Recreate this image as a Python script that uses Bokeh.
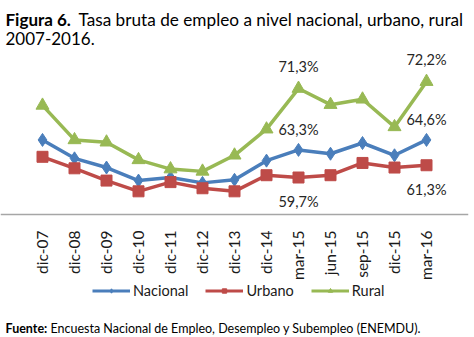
import math
from bokeh.plotting import figure
from bokeh.models import FactorRange, Range1d, Label, Legend, LegendItem, ColumnDataSource
from bokeh.core.properties import value
from bokeh.embed import file_html
from bokeh.resources import INLINE

periods = ["dic-07", "dic-08", "dic-09", "dic-10", "dic-11", "dic-12", "dic-13",
           "dic-14", "mar-15", "jun-15", "sep-15", "dic-15", "mar-16"]
nacional = [64.6, 62.2, 61.0, 59.3, 59.7, 59.0, 59.4, 61.9, 63.3, 62.8, 64.2, 62.6, 64.6]
urbano = [62.4, 60.9, 59.3, 57.9, 59.1, 58.3, 57.9, 60.0, 59.7, 60.0, 61.6, 61.0, 61.3]
rural = [69.1, 64.6, 64.3, 62.0, 60.8, 60.5, 62.6, 66.0, 71.3, 69.2, 69.9, 66.3, 72.2]
labelled = ["mar-15", "mar-16"]

FONT = "Lato"
C_NAC = "#4A7EBB"
C_URB = "#BE4B48"
C_RUR = "#98B954"
H = 337

p = figure(width=474, height=H, output_backend="svg", toolbar_location=None,
           x_range=FactorRange(factors=periods, range_padding=0.125),
           y_range=Range1d(38.84, 82.78),
           y_axis_location=None, min_border_left=0, min_border_right=6,
           min_border_top=0, min_border_bottom=0)
# an off-screen range used only by the legend swatch renderers
p.extra_y_ranges = {"swatch": Range1d(start=1000, end=1001)}
p.outline_line_color = None
p.xgrid.grid_line_color = None
p.ygrid.grid_line_color = None
p.background_fill_color = "white"
p.border_fill_color = "white"

ax = p.xaxis[0]
ax.fixed_location = 54.88
ax.axis_line_color = "#A6A6A6"
ax.axis_line_width = 1.5
ax.major_tick_line_color = None
ax.minor_tick_line_color = None
ax.major_label_orientation = math.pi / 2
ax.major_label_standoff = 10
ax.major_label_text_font = FONT
ax.major_label_text_font_size = "15.5px"
ax.major_label_text_color = "#1a1a1a"

series = [("Nacional", nacional, C_NAC, "diamond", 13),
          ("Urbano", urbano, C_URB, "square", 11),
          ("Rural", rural, C_RUR, "triangle", 13)]
legend_items = []
for name, vals, col, mk, sz in series:
    src = ColumnDataSource(dict(x=periods, y=vals))
    p.line("x", "y", source=src, line_color=col, line_width=3.5)
    p.scatter("x", "y", source=src, marker=mk, size=sz, fill_color=col, line_color=col)
    lr = p.line("x", "y", source=src, y_range_name="swatch", line_color=col, line_width=3)
    sr = p.scatter("x", "y", source=src, y_range_name="swatch",
                   marker=mk, size=7, fill_color=col, line_color=col)
    legend_items.append(LegendItem(label=name, renderers=[lr, sr]))

lab_x, lab_y, lab_t, lab_off = [], [], [], []
for name, vals, off in [("Rural", rural, -22), ("Nacional", nacional, -20), ("Urbano", urbano, 24)]:
    for per in labelled:
        i = periods.index(per)
        lab_x.append(per)
        lab_y.append(vals[i])
        lab_t.append(("%.1f%%" % vals[i]).replace(".", ","))
        lab_off.append(off)
lsrc = ColumnDataSource(dict(x=lab_x, y=lab_y, t=lab_t, off=lab_off))
p.text("x", "y", text="t", source=lsrc, y_offset="off", text_align="center",
       text_baseline="middle", text_font=value(FONT), text_font_size="14.5px",
       text_color="#262626")

legend = Legend(items=legend_items, orientation="horizontal", location=(92, H - 299),
                glyph_width=38, glyph_height=11, label_standoff=3, spacing=17,
                padding=0, margin=0, border_line_color=None, background_fill_alpha=0,
                label_text_font=FONT, label_text_font_size="14.5px",
                label_text_color="#1a1a1a")
p.add_layout(legend, "center")

def lab(x, y_top, text, size, bold=False):
    p.add_layout(Label(x=x, y=H - y_top, x_units="screen", y_units="screen", text=text,
                       text_font=FONT, text_font_size=size,
                       text_font_style="bold" if bold else "normal",
                       text_baseline="alphabetic", text_color="#000000"))

lab(5, 19, "Figura 6.", "17px", bold=True)
lab(78, 19, "Tasa bruta de empleo a nivel nacional, urbano, rural", "17.2px")
lab(5, 38, "2007-2016.", "17px")
lab(5, 328, "Fuente:", "12.5px", bold=True)
lab(50, 328, "Encuesta Nacional de Empleo, Desempleo y Subempleo (ENEMDU).", "12.5px")

open("out.html", "w").write(file_html(p, INLINE))
